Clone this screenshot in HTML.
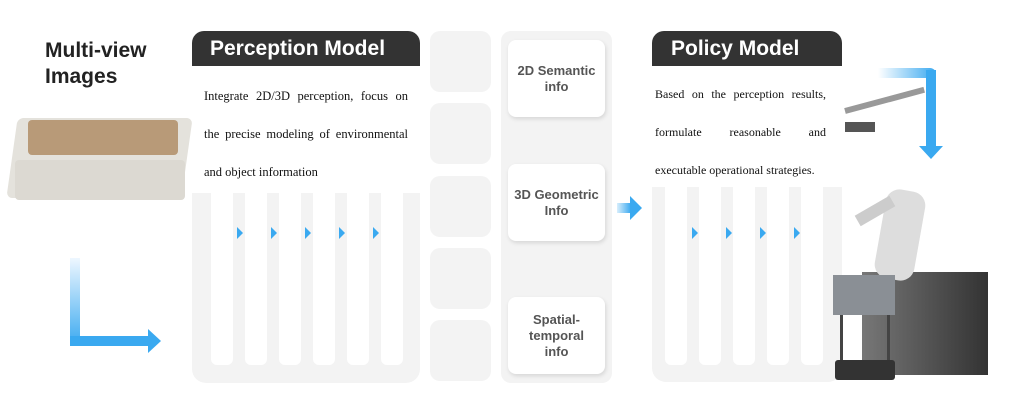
<!DOCTYPE html><html><head><style>
body{margin:0;width:1024px;height:417px;background:#fff;position:relative;overflow:hidden;font-family:"Liberation Sans",sans-serif}
div{position:absolute;box-sizing:border-box}
.hd{background:#333;color:#fff;font-weight:bold;font-size:21px;border-radius:12px 12px 0 0;height:35px;line-height:35px}
.pn{background:#f3f3f3;border-radius:0 0 14px 14px}
.tx{background:#fff;font-family:"Liberation Serif",serif;font-size:12.5px;line-height:38px;color:#111;text-align:justify}
.col{background:#fff;width:22px;border-radius:0 0 6px 6px}
.ar{width:0;height:0;border-left:6px solid #3aa9f0;border-top:6px solid transparent;border-bottom:6px solid transparent}
.tile{background:#f3f3f3;border-radius:10px;left:430px;width:61px;height:61px}
.ib{background:#fff;border-radius:8px;left:508px;width:97px;height:77px;box-shadow:1px 2px 4px rgba(0,0,0,.12);display:flex;align-items:center;justify-content:center;text-align:center;font-weight:bold;font-size:13px;color:#555;line-height:16px}
</style></head><body>
<div style="left:45px;top:38px;font-weight:bold;font-size:21px;line-height:26px;color:#222">Multi-view<br>Images</div>
<!-- crate -->
<div style="left:12px;top:118px;width:175px;height:80px;background:#e4e2dc;border-radius:6px;transform:skewX(-8deg)"></div>
<div style="left:28px;top:120px;width:150px;height:35px;background:#b89a78;border-radius:4px"></div>
<div style="left:15px;top:160px;width:170px;height:40px;background:#dcd9d2;border-radius:4px"></div>
<!-- left arrow -->
<div style="left:70px;top:258px;width:10px;height:88px;background:linear-gradient(#eef7ff,#3aa9f0)"></div>
<div style="left:70px;top:336px;width:80px;height:10px;background:#3aa9f0"></div>
<div style="left:148px;top:329px;width:0;height:0;border-left:13px solid #3aa9f0;border-top:12px solid transparent;border-bottom:12px solid transparent"></div>
<!-- perception -->
<div class="hd" style="left:192px;top:31px;width:228px;padding-left:18px">Perception Model</div>
<div class="pn" style="left:192px;top:66px;width:228px;height:317px"></div>
<div class="tx" style="left:192px;top:66px;width:228px;height:127px;padding:11px 12px 0 12px">Integrate 2D/3D perception, focus on the precise modeling of environmental and object information</div>
<div class="col" style="left:211px;top:193px;height:172px"></div>
<div class="col" style="left:245px;top:193px;height:172px"></div>
<div class="col" style="left:279px;top:193px;height:172px"></div>
<div class="col" style="left:313px;top:193px;height:172px"></div>
<div class="col" style="left:347px;top:193px;height:172px"></div>
<div class="col" style="left:381px;top:193px;height:172px"></div>
<div class="ar" style="left:237px;top:227px"></div><div class="ar" style="left:271px;top:227px"></div><div class="ar" style="left:305px;top:227px"></div><div class="ar" style="left:339px;top:227px"></div><div class="ar" style="left:373px;top:227px"></div>
<!-- tiles -->
<div class="tile" style="top:31px"></div><div class="tile" style="top:103px"></div><div class="tile" style="top:176px"></div><div class="tile" style="top:248px"></div><div class="tile" style="top:320px"></div>
<div style="left:501px;top:31px;width:111px;height:352px;background:#f3f3f3;border-radius:10px"></div>
<div class="ib" style="top:40px">2D Semantic<br>info</div>
<div class="ib" style="top:164px">3D Geometric<br>Info</div>
<div class="ib" style="top:297px">Spatial-<br>temporal<br>info</div>
<div style="left:617px;top:203px;width:14px;height:10px;background:linear-gradient(90deg,#d8eefc,#3aa9f0)"></div>
<div style="left:630px;top:196px;width:0;height:0;border-left:12px solid #3aa9f0;border-top:12px solid transparent;border-bottom:12px solid transparent"></div>
<!-- policy -->
<div class="hd" style="left:652px;top:31px;width:190px;padding-left:19px">Policy Model</div>
<div class="pn" style="left:652px;top:66px;width:190px;height:316px"></div>
<div class="tx" style="left:652px;top:66px;width:190px;height:121px;padding:9px 16px 0 3px;font-size:12px">Based on the perception results, formulate reasonable and executable operational strategies.</div>
<div class="col" style="left:665px;top:187px;height:178px"></div>
<div class="col" style="left:699px;top:187px;height:178px"></div>
<div class="col" style="left:733px;top:187px;height:178px"></div>
<div class="col" style="left:767px;top:187px;height:178px"></div>
<div class="col" style="left:801px;top:187px;height:178px"></div>
<div class="ar" style="left:692px;top:227px"></div><div class="ar" style="left:726px;top:227px"></div><div class="ar" style="left:760px;top:227px"></div><div class="ar" style="left:794px;top:227px"></div>
<!-- right arrow -->
<div style="left:878px;top:68px;width:58px;height:10px;background:linear-gradient(90deg,#fff,#3aa9f0);border-radius:0 6px 0 0"></div>
<div style="left:926px;top:70px;width:10px;height:78px;background:#3aa9f0"></div>
<div style="left:919px;top:146px;width:0;height:0;border-top:13px solid #3aa9f0;border-left:12px solid transparent;border-right:12px solid transparent"></div>
<div style="left:845px;top:108px;width:82px;height:6px;background:#999;transform:rotate(-15deg);transform-origin:left"></div>
<div style="left:845px;top:122px;width:30px;height:10px;background:#555"></div>
<!-- robot -->
<div style="left:862px;top:272px;width:126px;height:103px;background:linear-gradient(90deg,#777,#333)"></div>
<div style="left:880px;top:190px;width:40px;height:90px;background:#ddd;border-radius:14px;transform:rotate(10deg)"></div>
<div style="left:855px;top:205px;width:40px;height:12px;background:#ccc;transform:rotate(-30deg)"></div>
<div style="left:833px;top:275px;width:62px;height:40px;background:#8a8f95"></div>
<div style="left:840px;top:315px;width:50px;height:45px;border:3px solid #444;border-top:none;border-bottom:none"></div>
<div style="left:835px;top:360px;width:60px;height:20px;background:#333;border-radius:3px"></div>
</body></html>
